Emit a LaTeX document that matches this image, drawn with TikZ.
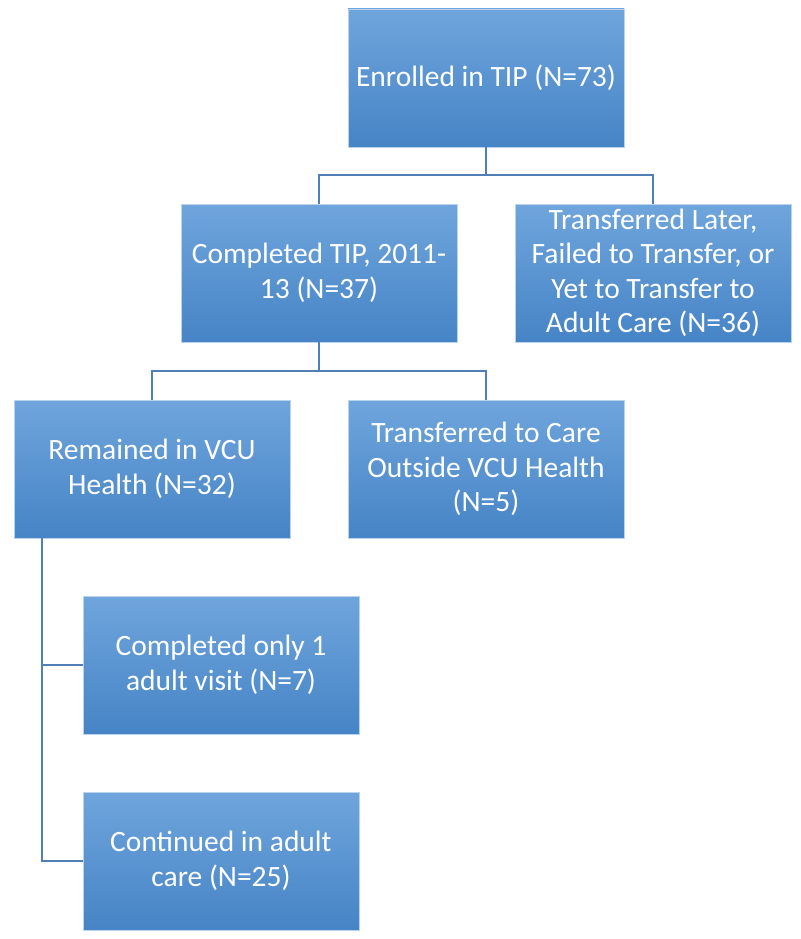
\documentclass[tikz,border=0pt]{standalone}
\usepackage{fontspec}
\setmainfont{Carlito}
\begin{document}
\begin{tikzpicture}[x=1pt,y=-1pt,
  box/.style={rectangle, minimum width=276pt, minimum height=138pt, inner sep=0pt,
    top color=boxtop, bottom color=boxbot, draw=boxedge, line width=0.8pt,
    text=white, align=center, font=\fontsize{29.5}{34.5}\selectfont},
  conn/.style={draw=linecol, line width=1.5pt}]
\definecolor{boxtop}{HTML}{6FA5DC}
\definecolor{boxbot}{HTML}{4684C6}
\definecolor{boxedge}{HTML}{B9D2EE}
\definecolor{linecol}{HTML}{4F7FB5}
\useasboundingbox (0,0) rectangle (800,939);
\node[box] (a) at (486,78) {Enrolled in TIP (N=73)};
\node[box] (b) at (319,273) {Completed TIP, 2011-\\13 (N=37)};
\node[box] (c) at (653,273) {Transferred Later,\\Failed to Transfer, or\\Yet to Transfer to\\Adult Care (N=36)};
\node[box] (d) at (152,469) {Remained in VCU\\Health (N=32)};
\node[box] (e) at (486,469) {Transferred to Care\\Outside VCU Health\\(N=5)};
\node[box] (f) at (221,665) {Completed only 1\\adult visit (N=7)};
\node[box] (g) at (221,861) {Continued in adult\\care (N=25)};
\coordinate (j1) at (486,175);
\coordinate (j2) at (319,371);
\coordinate (d0) at (42,538);
\draw[conn] (a.south) -- (j1);
\draw[conn] (j1) -| (b.north);
\draw[conn] (j1) -| (c.north);
\draw[conn] (b.south) -- (j2);
\draw[conn] (j2) -| (d.north);
\draw[conn] (j2) -| (e.north);
\draw[conn] (d0) |- (g.west);
\draw[conn] (d0 |- f.west) -- (f.west);
\end{tikzpicture}
\end{document}
